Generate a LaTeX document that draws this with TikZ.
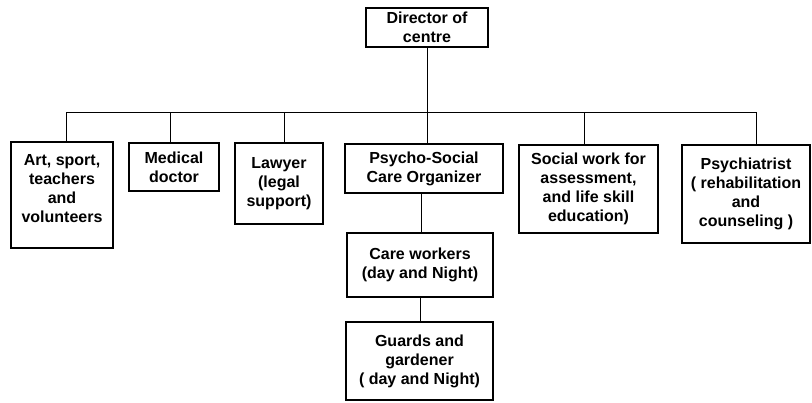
\documentclass[tikz,border=0pt]{standalone}
\usepackage{fontspec}
\setmainfont{Liberation Sans}
\tikzset{
  unit/.style={draw, line width=1.3pt, align=center, inner sep=2pt,
    font=\fontsize{16}{19}\selectfont\bfseries},
  link/.style={line width=0.9pt}
}
\begin{document}
\begin{tikzpicture}[x=1pt, y=-1pt]
    \useasboundingbox (0,0) rectangle (812,402);
    \node[unit, minimum width=122pt, minimum height=39pt] (dir) at (427,27.5) {Director of\\centre};
    \node[unit, minimum width=102pt, minimum height=106pt] (art) at (62,195) {Art, sport,\\teachers\\and\\volunteers\\[-5pt]};
    \node[unit, minimum width=90pt, minimum height=48pt] (med) at (174,167) {Medical\\doctor};
    \node[unit, minimum width=88pt, minimum height=81pt] (law) at (279,183.5) {Lawyer\\(legal\\support)};
    \node[unit, minimum width=158pt, minimum height=49pt] (psy) at (424,168.5) {Psycho-Social\\Care Organizer};
    \node[unit, minimum width=139pt, minimum height=88pt] (soc) at (588.5,189) {Social work for\\assessment,\\and life skill\\education)};
    \node[unit, minimum width=128pt, minimum height=98pt] (psych) at (746,194) {Psychiatrist\\( rehabilitation\\and\\counseling )};
    \node[unit, minimum width=146pt, minimum height=64pt] (care) at (420,265) {Care workers\\(day and Night)};
    \node[unit, minimum width=147pt, minimum height=78pt] (guard) at (419.5,361) {Guards and\\gardener\\( day and Night)};
    \coordinate (bus) at (0,112);
    % stems to the bus
    \foreach \n/\dx in {art/4, med/-4, law/5, soc/-4, psych/10}
      \draw[link] ([xshift=\dx]\n.north) -- ([xshift=\dx]\n.north |- bus);
    \draw[link] ([xshift=4]art.north |- bus) -- ([xshift=10]psych.north |- bus);
    % line of command
    \draw[link] (dir.south) -- (dir.south |- psy.north);
    \draw[link] ([xshift=-3]psy.south) -- ([xshift=-3]psy.south |- care.north);
    \draw[link] (care.south) -- (care.south |- guard.north);
\end{tikzpicture}
\end{document}
